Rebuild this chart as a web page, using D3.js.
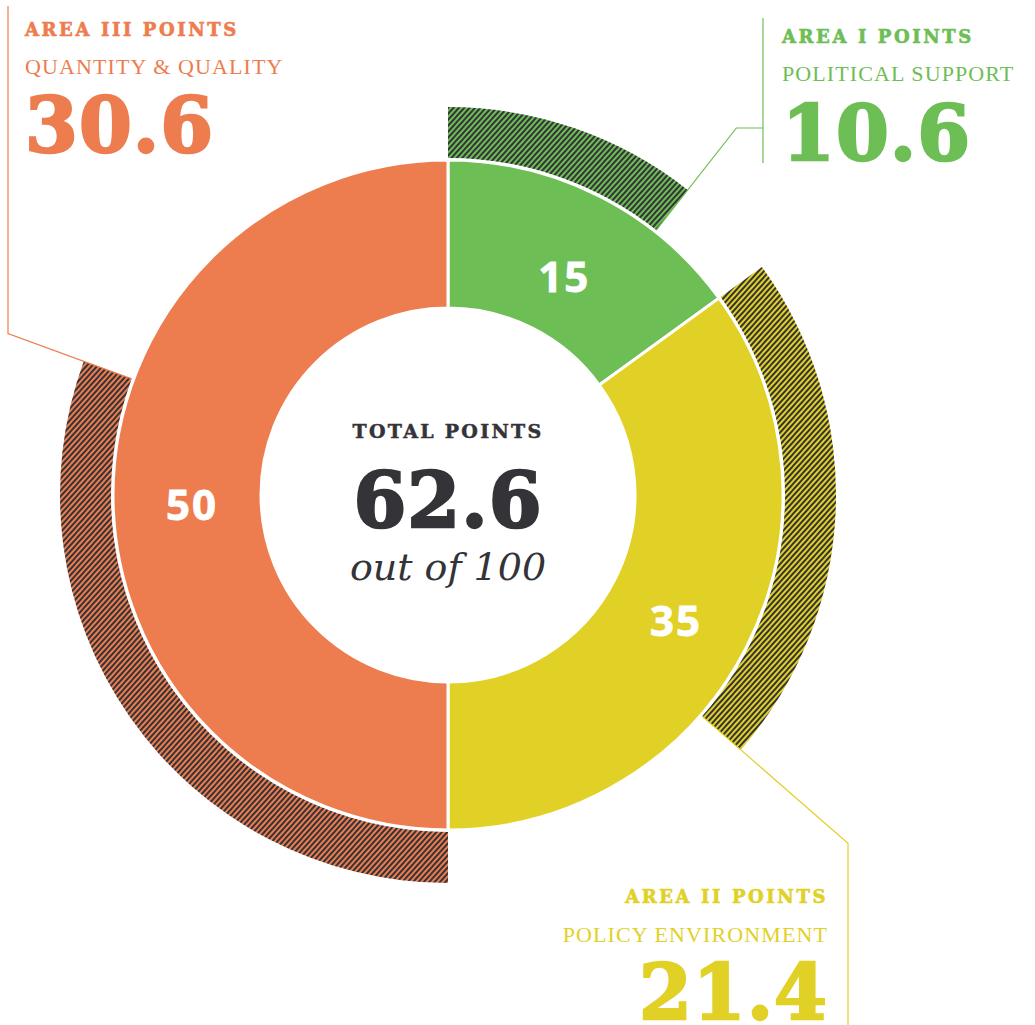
<!DOCTYPE html>
<html>
<head>
<meta charset="utf-8">
<script src="https://cdn.jsdelivr.net/npm/d3@7"></script>
<style>
  body { margin: 0; background: #fff; }
  svg { display: block; }
</style>
</head>
<body>
<div class="chart"></div>
<script>
let w = 1035;
let h = 1025;

// data
let areaTitles = ['AREA I POINTS', 'AREA II POINTS', 'AREA III  POINTS'];
let areaSubtitles = ['POLITICAL SUPPORT', 'POLICY ENVIRONMENT', 'QUANTITY & QUALITY'];
let maxPoints = [15, 35, 50];
let scored = [10.6, 21.4, 30.6];
let totalLabel = 'TOTAL POINTS';
let totalScore = 62.6;
let totalMax = 100;

let colors = ['#6dbe55', '#e1d126', '#ed7d4f'];
let dark = '#333338';

let cx = 448, cy = 495;
let rInner = 187, rOuter = 335;
let rHatchIn = 337, rHatchOut = 388;

let svg = d3.select('.chart').append('svg')
  .attr('width', w)
  .attr('height', h);

let defs = svg.append('defs');
colors.forEach(function(c, i) {
  let p = defs.append('pattern')
    .attr('id', 'hatch' + i)
    .attr('patternUnits', 'userSpaceOnUse')
    .attr('width', 4)
    .attr('height', 4)
    .attr('patternTransform', 'rotate(42)');
  p.append('rect').attr('width', 4).attr('height', 4).attr('fill', c);
  p.append('rect').attr('width', 2).attr('height', 4).attr('fill', dark);
});

let angle = d3.scaleLinear().domain([0, totalMax]).range([0, 2 * Math.PI]);

// build segments
let rows = [];
let acc = 0;
maxPoints.forEach(function(m, i) {
  rows.push({ i: i, start: acc, end: acc + m, max: m, score: scored[i] });
  acc += m;
});

let g = svg.append('g').attr('transform', 'translate(' + cx + ',' + cy + ')');

let arcMain = d3.arc().innerRadius(rInner).outerRadius(rOuter);
let arcHatch = d3.arc().innerRadius(rHatchIn).outerRadius(rHatchOut);

// hatched arcs for achieved points
g.selectAll('.hatch')
  .data(rows)
  .enter()
  .append('path')
    .attr('class', 'hatch')
    .attr('d', function(d) {
      return arcHatch({ startAngle: angle(d.start), endAngle: angle(d.start + d.score) });
    })
    .attr('fill', function(d) { return 'url(#hatch' + d.i + ')'; });

// main donut
g.selectAll('.seg')
  .data(rows)
  .enter()
  .append('path')
    .attr('class', 'seg')
    .attr('d', function(d) {
      return arcMain({ startAngle: angle(d.start), endAngle: angle(d.end) });
    })
    .attr('fill', function(d) { return colors[d.i]; })
    .attr('stroke', '#fff')
    .attr('stroke-width', 3);

// segment max labels
let labelArc = d3.arc().innerRadius(256).outerRadius(256);
g.selectAll('.segLabel')
  .data(rows)
  .enter()
  .append('text')
    .attr('class', 'segLabel')
    .attr('x', function(d) {
      return labelArc.centroid({ startAngle: angle(d.start), endAngle: angle(d.end) })[0];
    })
    .attr('y', function(d) {
      return labelArc.centroid({ startAngle: angle(d.start), endAngle: angle(d.end) })[1];
    })
    .attr('dy', '0.6em')
    .attr('text-anchor', 'middle')
    .attr('font-family', 'Open Sans, sans-serif')
    .attr('font-weight', 700)
    .attr('font-size', 42)
    .attr('letter-spacing', 2)
    .attr('fill', '#fff')
    .attr('stroke', '#fff')
    .attr('stroke-width', 0.8)
    .text(function(d) { return d.max; });

// center text
g.append('text')
  .attr('y', -57)
  .attr('text-anchor', 'middle')
  .attr('font-family', 'DejaVu Serif, serif')
  .attr('font-weight', 700)
  .attr('font-size', 19)
  .attr('letter-spacing', 2.3)
  .attr('fill', dark)
  .attr('stroke', dark)
  .attr('stroke-width', 0.5)
  .text(totalLabel);

g.append('text')
  .attr('y', 32)
  .attr('text-anchor', 'middle')
  .attr('font-family', 'DejaVu Serif, serif')
  .attr('font-weight', 700)
  .attr('font-size', 76)
  .attr('letter-spacing', 1)
  .attr('fill', dark)
  .attr('stroke', dark)
  .attr('stroke-width', 2.5)
  .text(totalScore);

g.append('text')
  .attr('y', 85)
  .attr('text-anchor', 'middle')
  .attr('font-family', 'DejaVu Serif, serif')
  .attr('font-style', 'italic')
  .attr('font-size', 38)
  .attr('fill', dark)
  .text('out of ' + totalMax);

// callouts
function polar(a, r) {
  return [cx + r * Math.sin(a), cy - r * Math.cos(a)];
}

// layout of each callout: text anchor, baselines
let callouts = [
  { x: 782, anchor: 'start', ys: [43, 81, 160] },
  { x: 828, anchor: 'end', ys: [903, 942, 1019] },
  { x: 25, anchor: 'start', ys: [36, 74, 152] }
];

rows.forEach(function(d) {
  let c = callouts[d.i];
  let col = colors[d.i];
  let a = angle(d.start + d.score);
  let p0 = polar(a, rHatchIn);
  let dir = [Math.sin(a), -Math.cos(a)];
  let pts = [];
  if (d.i === 0) {
    // radial up to y=128, then horizontal to vertical bar
    let t = (128 - p0[1]) / dir[1];
    let p1 = [p0[0] + dir[0] * t, 128];
    pts = [p0, p1, [763, 128]];
    svg.append('line')
      .attr('x1', 763).attr('x2', 763).attr('y1', 18).attr('y2', 163)
      .attr('stroke', col).attr('stroke-width', 1.2);
  } else if (d.i === 1) {
    let t = (848 - p0[0]) / dir[0];
    let p1 = [848, p0[1] + dir[1] * t];
    pts = [p0, p1, [848, h]];
  } else {
    let t = (8 - p0[0]) / dir[0];
    let p1 = [8, p0[1] + dir[1] * t];
    pts = [p0, p1, [8, 6]];
  }
  svg.append('path')
    .attr('d', d3.line()(pts))
    .attr('fill', 'none')
    .attr('stroke', col)
    .attr('stroke-width', 1.2);

  svg.append('text')
    .attr('x', c.x).attr('y', c.ys[0])
    .attr('text-anchor', c.anchor)
    .attr('font-family', 'DejaVu Serif, serif')
    .attr('font-weight', 700)
    .attr('font-size', 18)
    .attr('letter-spacing', 2.6)
    .attr('fill', col)
    .attr('stroke', col)
    .attr('stroke-width', 0.6)
    .text(areaTitles[d.i]);

  svg.append('text')
    .attr('x', c.x).attr('y', c.ys[1])
    .attr('text-anchor', c.anchor)
    .attr('font-family', 'Liberation Serif, serif')
    .attr('font-size', 22)
    .attr('letter-spacing', 1.1)
    .attr('fill', col)
    .text(areaSubtitles[d.i]);

  svg.append('text')
    .attr('x', c.x).attr('y', c.ys[2])
    .attr('text-anchor', c.anchor)
    .attr('font-family', 'DejaVu Serif, serif')
    .attr('font-weight', 700)
    .attr('font-size', 76)
    .attr('letter-spacing', 1)
    .attr('fill', col)
    .attr('stroke', col)
    .attr('stroke-width', 2.5)
    .text(d.score);
});
</script>
</body>
</html>
